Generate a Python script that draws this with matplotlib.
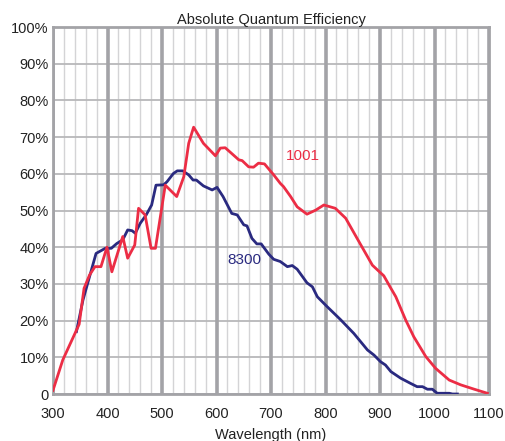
import matplotlib
matplotlib.use("Agg")
import matplotlib.pyplot as plt
import numpy as np

plt.rcParams['font.family'] = ['Liberation Sans', 'DejaVu Sans']

title = "Absolute Quantum Efficiency"
xlabel = "Wavelength (nm)"
x_ticks = [300, 400, 500, 600, 700, 800, 900, 1000, 1100]
y_ticks = [0, 10, 20, 30, 40, 50, 60, 70, 80, 90, 100]
y_ticklabels = ["0", "10%", "20%", "30%", "40%", "50%", "60%", "70%", "80%", "90%", "100%"]

# Series 1001 (red)
wl_1001 = [300, 318, 348, 357, 367, 377, 388, 399, 408, 428, 437, 450, 457, 469, 480, 488,
           506, 527, 540, 549, 558, 576, 598, 607, 616, 641, 647, 659, 668, 677, 688, 705,
           717, 723, 736, 748, 766, 782, 797, 818, 837, 858, 886, 907, 920, 929, 947, 962,
           984, 1002, 1027, 1048, 1073, 1097]
qe_1001 = [1.0, 9.3, 19.0, 28.8, 32.4, 34.7, 34.7, 40.0, 33.3, 42.9, 37.0, 40.6, 50.6, 48.8, 39.7, 39.7,
           56.9, 53.8, 59.2, 68.3, 72.7, 68.3, 64.9, 67.0, 67.1, 63.8, 63.6, 61.9, 61.8, 62.9, 62.7, 59.7,
           57.4, 56.5, 53.8, 51.0, 49.0, 50.1, 51.5, 50.6, 47.9, 42.4, 35.1, 32.2, 28.8, 26.5, 20.2, 15.6,
           10.2, 7.0, 3.8, 2.5, 1.3, 0.2]

# Series 8300 (navy)
wl_8300 = [343, 355, 379, 396, 407, 417, 428, 437, 445, 451, 460, 471, 481, 489, 503, 509,
           521, 528, 538, 549, 557, 563, 576, 592, 601, 612, 628, 638, 650, 656, 665, 674,
           682, 696, 705, 717, 730, 739, 748, 766, 776, 785, 803, 828, 852, 877, 889, 901,
           910, 920, 938, 956, 968, 978, 987, 996, 1005, 1027, 1033, 1042]
qe_8300 = [17.0, 25.6, 38.3, 39.7, 39.7, 41.0, 42.0, 44.7, 44.5, 43.8, 46.5, 48.8, 51.5, 56.9, 57.0, 57.8,
           60.1, 60.8, 60.8, 59.7, 58.3, 58.3, 56.7, 55.6, 56.3, 53.8, 49.2, 48.8, 46.1, 45.8, 42.4, 40.9,
           40.9, 38.1, 36.7, 36.1, 34.7, 35.0, 34.0, 30.3, 29.2, 26.5, 23.8, 20.2, 16.5, 12.0, 10.6, 8.8,
           7.9, 6.1, 4.3, 2.9, 2.0, 2.0, 1.3, 1.3, 0.2, 0.2, 0.0, 0.0]

red = "#EC2D45"
navy = "#2A2A80"

fig = plt.figure(figsize=(5.05, 4.41), dpi=100)
ax = fig.add_axes([53/505, 1-394/441, (489-53)/505, (394-27)/441])
ax.set_xlim(300, 1100)
ax.set_ylim(0, 100)

# grid
for xv in np.arange(300, 1101, 20):
    if xv % 100 == 0:
        ax.axvline(xv, color="#A3A3A7", lw=2.6, zorder=1)
    else:
        ax.axvline(xv, color="#D4D4D6", lw=1.0, zorder=0.5)
for yv in y_ticks:
    ax.axhline(yv, color="#B8B8BA", lw=1.3, zorder=0.8)

ax.plot(wl_8300, qe_8300, color=navy, lw=2.0, zorder=3)
ax.plot(wl_1001, qe_1001, color=red, lw=2.0, zorder=4)

ax.text(759, 64.9, "1001", color=red, fontsize=11, ha="center", va="center")
ax.text(652, 36.5, "8300", color=navy, fontsize=11, ha="center", va="center")

ax.set_xticks(x_ticks)
ax.set_yticks(y_ticks)
ax.set_yticklabels(y_ticklabels)
ax.tick_params(length=0, labelsize=10.5, colors="#222222")
ax.tick_params(axis="x", pad=9)
ax.tick_params(axis="y", pad=3)
for s in ax.spines.values():
    s.set_color("#A3A3A7")
    s.set_linewidth(2.0)
ax.set_xlabel(xlabel, fontsize=10.5, color="#222222", labelpad=5.5)
ax.set_title(title, fontsize=10.5, color="#222222", pad=2)

fig.savefig("out.png", dpi=100)
